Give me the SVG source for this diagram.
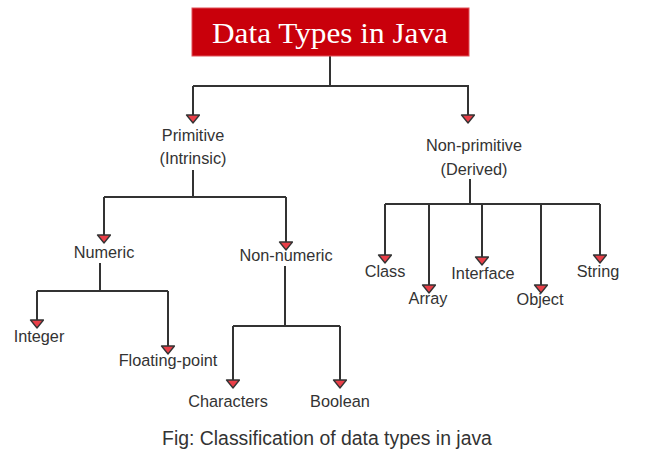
<svg xmlns="http://www.w3.org/2000/svg" width="652" height="458" viewBox="0 0 652 458">
<style>
.lbl{font-family:"Liberation Sans",Arial,sans-serif;font-size:16.3px;fill:#333;text-anchor:middle}
.ln{stroke:#333;stroke-width:2;fill:none}
.cap{font-family:"Liberation Sans",Arial,sans-serif;font-size:19.4px;fill:#333;text-anchor:middle}
</style>
<defs>
<marker id="arr" markerUnits="userSpaceOnUse" markerWidth="12" markerHeight="16" refX="9" refY="7" orient="auto" viewBox="0 0 12 16">
<path d="M1,0.5 L9,7 L1,13.5 Z" fill="#ea3f48" stroke="#333" stroke-width="1.3" stroke-linejoin="round"/>
</marker>
</defs>
<rect width="652" height="458" fill="#fff"/>
<g id="connectors" class="ln">
<path d="M330,56 V86 M193,86 H469"/>
<path d="M193,86 V123" marker-end="url(#arr)"/>
<path d="M468,86 V123" marker-end="url(#arr)"/>
<path d="M193,170 V197 M104,197 H286"/>
<path d="M104,197 V243" marker-end="url(#arr)"/>
<path d="M286,197 V250" marker-end="url(#arr)"/>
<path d="M100,263 V291 M37,291 H168"/>
<path d="M37,291 V328" marker-end="url(#arr)"/>
<path d="M168,291 V354" marker-end="url(#arr)"/>
<path d="M285,266 V326 M233,326 H340"/>
<path d="M233,326 V388" marker-end="url(#arr)"/>
<path d="M340,326 V388" marker-end="url(#arr)"/>
<path d="M470,179 V204 M385,204 H600"/>
<path d="M385,204 V263" marker-end="url(#arr)"/>
<path d="M429,204 V293" marker-end="url(#arr)"/>
<path d="M482,204 V265" marker-end="url(#arr)"/>
<path d="M541,204 V293" marker-end="url(#arr)"/>
<path d="M600,204 V263" marker-end="url(#arr)"/>
</g>
<g id="root">
<rect x="192" y="8" width="277" height="48" fill="#c9000b" stroke="#e05058" stroke-width="1"/>
<text x="330" y="43" font-family="'Liberation Serif','Times New Roman',serif" font-size="30" fill="#fff" text-anchor="middle" textLength="236" lengthAdjust="spacingAndGlyphs">Data Types in Java</text>
</g>
<g id="primitive"><text class="lbl" x="193" y="141">Primitive</text><text class="lbl" x="193" y="164">(Intrinsic)</text></g>
<g id="nonprimitive"><text class="lbl" x="474" y="151">Non-primitive</text><text class="lbl" x="474" y="175">(Derived)</text></g>
<g id="numeric"><text class="lbl" x="104" y="258">Numeric</text></g>
<g id="nonnumeric"><text class="lbl" x="286" y="261">Non-numeric</text></g>
<g id="integer"><text class="lbl" x="39" y="342">Integer</text></g>
<g id="floating"><text class="lbl" x="168" y="366">Floating-point</text></g>
<g id="characters"><text class="lbl" x="228" y="407">Characters</text></g>
<g id="boolean"><text class="lbl" x="340" y="407">Boolean</text></g>
<g id="class"><text class="lbl" x="385" y="277">Class</text></g>
<g id="array"><text class="lbl" x="428" y="304">Array</text></g>
<g id="interface"><text class="lbl" x="483" y="279">Interface</text></g>
<g id="object"><text class="lbl" x="540" y="305">Object</text></g>
<g id="string"><text class="lbl" x="598" y="277">String</text></g>
<g id="caption"><text class="cap" x="327" y="445">Fig: Classification of data types in java</text></g>
</svg>
